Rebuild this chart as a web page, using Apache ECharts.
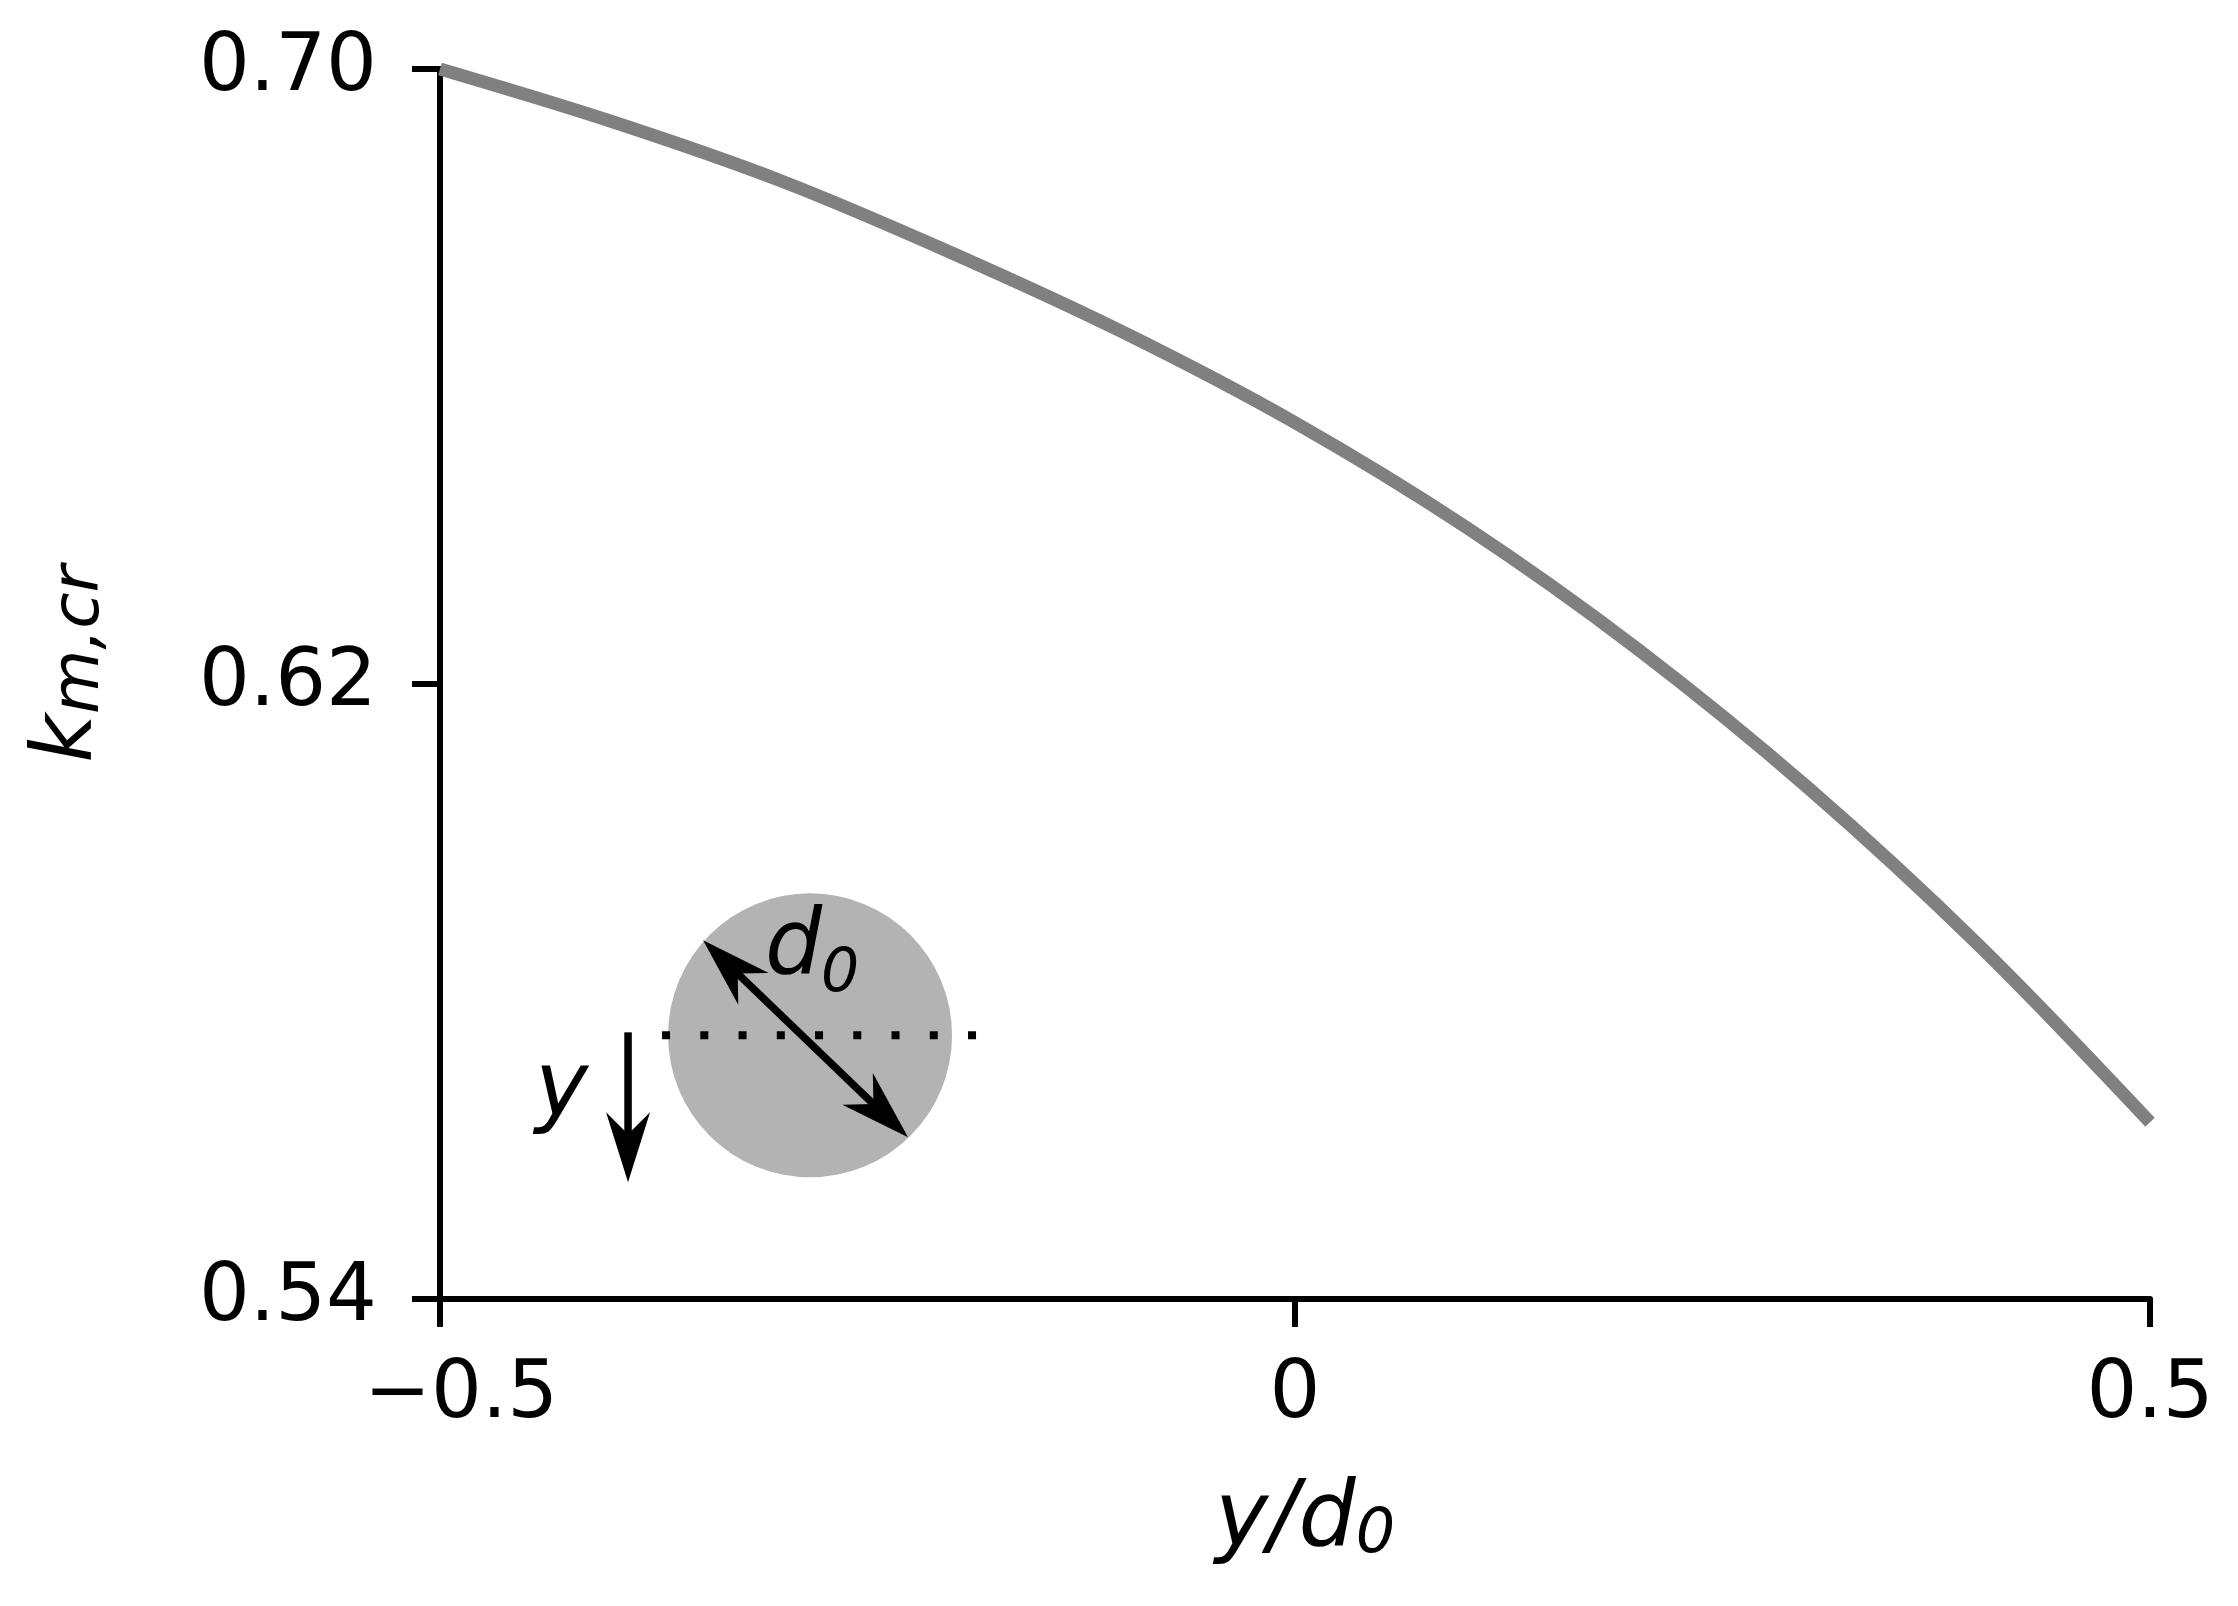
<!DOCTYPE html>
<html>
<head>
<meta charset="utf-8">
<script src="https://cdn.jsdelivr.net/npm/echarts@6/dist/echarts.min.js"></script>
<style>
html,body{margin:0;padding:0;background:#fff;}
#chart{width:2238px;height:1606px;}
</style>
</head>
<body>
<div id="chart"></div>
<script>
// ---- data ----
const xValues = [-0.5, -0.4, -0.3, -0.2, -0.1, 0.0, 0.1, 0.2, 0.3, 0.4, 0.5];
const kValues = [0.7000, 0.6932, 0.6854, 0.6760, 0.6657, 0.6540, 0.6404, 0.6246, 0.6065, 0.5860, 0.5630];
const xTickValues = [-0.5, 0, 0.5];
const xTickLabels = ['\u22120.5', '0', '0.5'];
const yTickValues = [0.54, 0.62, 0.70];
const yTickLabels = ['0.54', '0.62', '0.70'];
// anchor of the schematic inset (data units)
const insetAnchor = [-0.2836, 0.5743];

const FONT = '"DejaVu Sans", "Liberation Sans", sans-serif';

const chart = echarts.init(document.getElementById('chart'), null, {renderer: 'canvas'});

function arrowHead(tx, ty, dx, dy) {
  const L = 70, W = 22, N = 48;
  const nx = -dy, ny = dx;
  return [
    [tx, ty],
    [tx - dx * L + nx * W, ty - dy * L + ny * W],
    [tx - dx * N, ty - dy * N],
    [tx - dx * L - nx * W, ty - dy * L - ny * W]
  ];
}

function renderInset(params, api) {
  const c = api.coord([api.value(0), api.value(1)]);
  const cx = c[0], cy = c[1];
  const children = [];
  children.push({type: 'circle', shape: {cx: cx, cy: cy, r: 142}, style: {fill: '#b3b3b3'}});
  children.push({type: 'line', shape: {x1: cx - 148, y1: cy, x2: cx + 168, y2: cy},
    style: {stroke: '#000', lineWidth: 8, lineDash: [8, 30.25], lineCap: 'butt'}});
  // diagonal double arrow
  const ax = cx - 107, ay = cy - 95, bx = cx + 98, by = cy + 102;
  const len = Math.hypot(bx - ax, by - ay);
  const dx = (bx - ax) / len, dy = (by - ay) / len;
  children.push({type: 'line', shape: {x1: ax + dx * 46, y1: ay + dy * 46, x2: bx - dx * 46, y2: by - dy * 46},
    style: {stroke: '#000', lineWidth: 7.5}});
  children.push({type: 'polygon', shape: {points: arrowHead(ax, ay, -dx, -dy)}, style: {fill: '#000'}});
  children.push({type: 'polygon', shape: {points: arrowHead(bx, by, dx, dy)}, style: {fill: '#000'}});
  // y arrow
  const yx = cx - 182;
  children.push({type: 'line', shape: {x1: yx, y1: cy - 3, x2: yx, y2: cy + 147 - 46},
    style: {stroke: '#000', lineWidth: 7.5}});
  children.push({type: 'polygon', shape: {points: arrowHead(yx, cy + 147, 0, 1)}, style: {fill: '#000'}});
  // labels
  children.push({type: 'text', style: {text: 'd', x: cx - 45, y: cy - 86, font: 'italic 90px ' + FONT,
    fill: '#000', textAlign: 'left', verticalAlign: 'middle', textVerticalAlign: 'middle'}});
  children.push({type: 'text', style: {text: '0', x: cx + 11, y: cy - 60, font: 'italic 60px ' + FONT,
    fill: '#000', textAlign: 'left', verticalAlign: 'middle', textVerticalAlign: 'middle'}});
  children.push({type: 'text', style: {text: 'y', x: cx - 275, y: cy + 56, font: 'italic 90px ' + FONT,
    fill: '#000', textAlign: 'left', verticalAlign: 'middle', textVerticalAlign: 'middle'}});
  return {type: 'group', children: children};
}

const option = {
  animation: false,
  backgroundColor: '#ffffff',
  grid: {left: 440, right: 88, top: 69, bottom: 307, containLabel: false},
  xAxis: {
    type: 'value',
    min: -0.5, max: 0.5, interval: 0.5,
    splitLine: {show: false},
    axisLine: {show: true, onZero: false, lineStyle: {color: '#000', width: 6}},
    axisTick: {show: true, length: 28, lineStyle: {color: '#000', width: 6}},
    axisLabel: {
      margin: 57, color: '#000', fontSize: 80, fontFamily: FONT,
      formatter: function (v) {
        const i = xTickValues.findIndex(t => Math.abs(t - v) < 1e-9);
        if (i === 0) return '{n|' + xTickLabels[i] + '}';
        return i >= 0 ? xTickLabels[i] : '';
      },
      rich: {n: {fontSize: 80, fontFamily: FONT, color: '#000', padding: [0, 0, 0, 42]}}
    },
    name: '{m|y/d}{s|0}',
    nameLocation: 'middle',
    nameGap: 178,
    nameTextStyle: {
      padding: [0, 0, 0, 20],
      rich: {
        m: {fontSize: 90, fontStyle: 'italic', fontFamily: FONT, color: '#000', lineHeight: 90},
        s: {fontSize: 62, fontStyle: 'italic', fontFamily: FONT, color: '#000', lineHeight: 43, verticalAlign: 'bottom'}
      }
    }
  },
  yAxis: {
    type: 'value',
    min: 0.54, max: 0.70, interval: 0.08,
    splitLine: {show: false},
    axisLine: {show: true, onZero: false, lineStyle: {color: '#000', width: 6}},
    axisTick: {show: true, length: 28, lineStyle: {color: '#000', width: 6}},
    axisLabel: {
      margin: 63, color: '#000', fontSize: 80, fontFamily: FONT,
      formatter: function (v) {
        const i = yTickValues.findIndex(t => Math.abs(t - v) < 1e-9);
        return i >= 0 ? yTickLabels[i] : '';
      }
    },
    name: '{m|k}{s|m,cr}',
    nameLocation: 'middle',
    nameRotate: 90,
    nameGap: 326,
    nameTextStyle: {
      padding: [0, 0, 0, 40],
      rich: {
        m: {fontSize: 84, fontStyle: 'italic', fontFamily: FONT, color: '#000', lineHeight: 90},
        s: {fontSize: 66, fontStyle: 'italic', fontFamily: FONT, color: '#000', lineHeight: 43, verticalAlign: 'bottom'}
      }
    }
  },
  series: [
    {
      type: 'line',
      data: xValues.map((x, i) => [x, kValues[i]]),
      smooth: 0.33,
      showSymbol: false,
      symbol: 'none',
      lineStyle: {color: '#808080', width: 13, cap: 'butt'},
      z: 3
    },
    {
      type: 'custom',
      coordinateSystem: 'cartesian2d',
      data: [insetAnchor],
      renderItem: renderInset,
      clip: false,
      silent: true,
      z: 4
    }
  ]
};
chart.setOption(option);
</script>
</body>
</html>
